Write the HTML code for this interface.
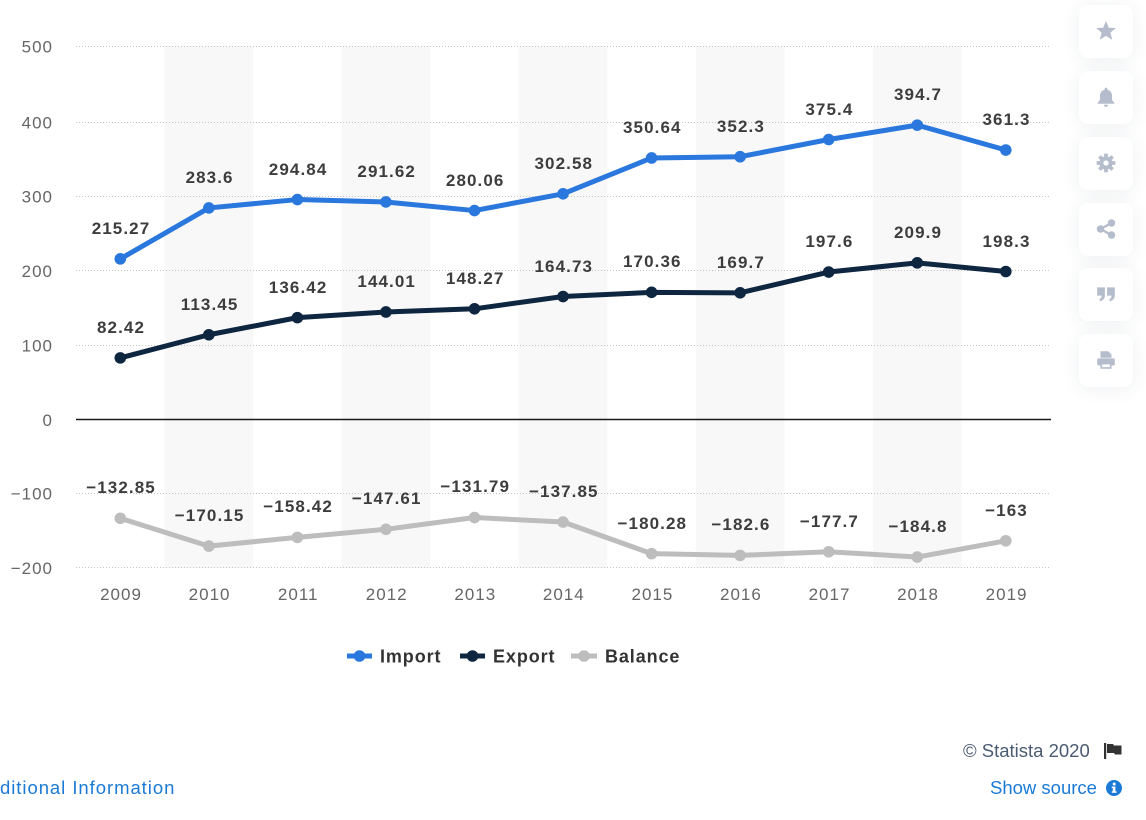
<!DOCTYPE html>
<html>
<head>
<meta charset="utf-8">
<style>
  html,body{margin:0;padding:0;background:#fff;}
  body{width:1146px;height:820px;position:relative;overflow:hidden;font-family:"Liberation Sans",Arial,sans-serif;}
  svg{position:absolute;left:0;top:0;}
  .btn{position:absolute;left:1079px;width:54px;height:53px;background:#fff;border-radius:9px;box-shadow:0 2px 18px rgba(40,60,90,0.08);}
  .btn svg{position:absolute;left:16px;top:15px;}
  .foot{position:absolute;font-size:18.5px;white-space:nowrap;}
</style>
</head>
<body>
<svg width="1146" height="820" viewBox="0 0 1146 820" xmlns="http://www.w3.org/2000/svg">
  <g fill="#f8f8f8">
    <rect x="164.55" y="46" width="88.55" height="522"/>
    <rect x="341.65" y="46" width="88.55" height="522"/>
    <rect x="518.75" y="46" width="88.55" height="522"/>
    <rect x="695.85" y="46" width="88.55" height="522"/>
    <rect x="872.95" y="46" width="88.55" height="522"/>
  </g>
  <g stroke="#c4c4c4" stroke-width="1" stroke-dasharray="1,2">
    <line x1="76" y1="46.5" x2="1050" y2="46.5"/>
    <line x1="76" y1="122.5" x2="1050" y2="122.5"/>
    <line x1="76" y1="196.5" x2="1050" y2="196.5"/>
    <line x1="76" y1="270.5" x2="1050" y2="270.5"/>
    <line x1="76" y1="345.5" x2="1050" y2="345.5"/>
    <line x1="76" y1="493.5" x2="1050" y2="493.5"/>
    <line x1="76" y1="567.5" x2="1050" y2="567.5"/>
  </g>
  <line x1="76" y1="419.5" x2="1051" y2="419.5" stroke="#1a1a1a" stroke-width="1.5"/>
  <g font-size="17" fill="#666" text-anchor="end" letter-spacing="1">
    <text x="53" y="52.5">500</text>
    <text x="53" y="128.5">400</text>
    <text x="53" y="202.5">300</text>
    <text x="53" y="277">200</text>
    <text x="53" y="351.5">100</text>
    <text x="53" y="426">0</text>
    <text x="53" y="499.5">−100</text>
    <text x="53" y="574">−200</text>
  </g>
  <g font-size="17" fill="#666" text-anchor="middle" letter-spacing="1">
    <text x="121" y="600">2009</text>
    <text x="209.6" y="600">2010</text>
    <text x="298.2" y="600">2011</text>
    <text x="386.7" y="600">2012</text>
    <text x="475.3" y="600">2013</text>
    <text x="563.8" y="600">2014</text>
    <text x="652.4" y="600">2015</text>
    <text x="740.9" y="600">2016</text>
    <text x="829.5" y="600">2017</text>
    <text x="918" y="600">2018</text>
    <text x="1006.6" y="600">2019</text>
  </g>
  <polyline fill="none" stroke="#bdbdbd" stroke-width="5" stroke-linejoin="round" points="120.3,518.31 208.85,546.11 297.4,537.37 385.95,529.31 474.5,517.52 563.05,522.04 651.6,553.66 740.15,555.39 828.7,551.74 917.25,557.03 1005.8,540.78"/>
  <g fill="#bdbdbd">
    <circle cx="120.3" cy="518.31" r="5.8"/><circle cx="208.85" cy="546.11" r="5.8"/><circle cx="297.4" cy="537.37" r="5.8"/><circle cx="385.95" cy="529.31" r="5.8"/><circle cx="474.5" cy="517.52" r="5.8"/><circle cx="563.05" cy="522.04" r="5.8"/><circle cx="651.6" cy="553.66" r="5.8"/><circle cx="740.15" cy="555.39" r="5.8"/><circle cx="828.7" cy="551.74" r="5.8"/><circle cx="917.25" cy="557.03" r="5.8"/><circle cx="1005.8" cy="540.78" r="5.8"/>
  </g>
  <polyline fill="none" stroke="#0f2641" stroke-width="5" stroke-linejoin="round" points="120.3,357.87 208.85,334.75 297.4,317.63 385.95,311.97 474.5,308.8 563.05,296.53 651.6,292.33 740.15,292.82 828.7,272.03 917.25,262.86 1005.8,271.51"/>
  <g fill="#0f2641">
    <circle cx="120.3" cy="357.87" r="5.8"/><circle cx="208.85" cy="334.75" r="5.8"/><circle cx="297.4" cy="317.63" r="5.8"/><circle cx="385.95" cy="311.97" r="5.8"/><circle cx="474.5" cy="308.8" r="5.8"/><circle cx="563.05" cy="296.53" r="5.8"/><circle cx="651.6" cy="292.33" r="5.8"/><circle cx="740.15" cy="292.82" r="5.8"/><circle cx="828.7" cy="272.03" r="5.8"/><circle cx="917.25" cy="262.86" r="5.8"/><circle cx="1005.8" cy="271.51" r="5.8"/>
  </g>
  <polyline fill="none" stroke="#2a77de" stroke-width="5" stroke-linejoin="round" points="120.3,258.86 208.85,207.93 297.4,199.56 385.95,201.96 474.5,210.57 563.05,193.79 651.6,157.97 740.15,156.73 828.7,139.51 917.25,125.13 1005.8,150.02"/>
  <g fill="#2a77de">
    <circle cx="120.3" cy="258.86" r="5.8"/><circle cx="208.85" cy="207.93" r="5.8"/><circle cx="297.4" cy="199.56" r="5.8"/><circle cx="385.95" cy="201.96" r="5.8"/><circle cx="474.5" cy="210.57" r="5.8"/><circle cx="563.05" cy="193.79" r="5.8"/><circle cx="651.6" cy="157.97" r="5.8"/><circle cx="740.15" cy="156.73" r="5.8"/><circle cx="828.7" cy="139.51" r="5.8"/><circle cx="917.25" cy="125.13" r="5.8"/><circle cx="1005.8" cy="150.02" r="5.8"/>
  </g>
  <g font-size="17" font-weight="bold" fill="#3d3d3d" text-anchor="middle" letter-spacing="1.1">
    <text x="121" y="234">215.27</text>
    <text x="209.6" y="183">283.6</text>
    <text x="298.1" y="175">294.84</text>
    <text x="386.7" y="177">291.62</text>
    <text x="475.2" y="186">280.06</text>
    <text x="563.8" y="169">302.58</text>
    <text x="652.3" y="133">350.64</text>
    <text x="740.9" y="132">352.3</text>
    <text x="829.4" y="115">375.4</text>
    <text x="918" y="100">394.7</text>
    <text x="1006.5" y="125">361.3</text>

    <text x="121" y="333">82.42</text>
    <text x="209.6" y="310">113.45</text>
    <text x="298.1" y="293">136.42</text>
    <text x="386.7" y="287">144.01</text>
    <text x="475.2" y="284">148.27</text>
    <text x="563.8" y="272">164.73</text>
    <text x="652.3" y="267">170.36</text>
    <text x="740.9" y="268">169.7</text>
    <text x="829.4" y="247">197.6</text>
    <text x="918" y="238">209.9</text>
    <text x="1006.5" y="247">198.3</text>

    <text x="121" y="493">−132.85</text>
    <text x="209.6" y="521">−170.15</text>
    <text x="298.1" y="512">−158.42</text>
    <text x="386.7" y="504">−147.61</text>
    <text x="475.2" y="492">−131.79</text>
    <text x="563.8" y="497">−137.85</text>
    <text x="652.3" y="529">−180.28</text>
    <text x="740.9" y="530">−182.6</text>
    <text x="829.4" y="527">−177.7</text>
    <text x="918" y="532">−184.8</text>
    <text x="1006.5" y="516">−163</text>
  </g>
  <g>
    <line x1="347" y1="656" x2="372" y2="656" stroke="#2a77de" stroke-width="5"/>
    <circle cx="359.5" cy="656" r="5.8" fill="#2a77de"/>
    <line x1="460" y1="656" x2="485" y2="656" stroke="#0f2641" stroke-width="5"/>
    <circle cx="472.5" cy="656" r="5.8" fill="#0f2641"/>
    <line x1="571" y1="656" x2="597" y2="656" stroke="#bdbdbd" stroke-width="5"/>
    <circle cx="584" cy="656" r="5.8" fill="#bdbdbd"/>
    <g font-size="18" font-weight="bold" fill="#333" letter-spacing="0.9">
      <text x="380" y="662.5">Import</text>
      <text x="493" y="662.5">Export</text>
      <text x="605" y="662.5">Balance</text>
    </g>
  </g>
</svg>

<div class="btn" style="top:5px;">
  <svg width="22" height="22" viewBox="0 0 20 20"><polygon points="10,1 12.6,7 19,7.3 14,11.5 15.7,18 10,14.4 4.3,18 6,11.5 1,7.3 7.4,7" fill="#b5bdcc"/></svg>
</div>
<div class="btn" style="top:71px;">
  <svg width="22" height="22" viewBox="0 0 20 20"><path d="M10 1.5c.8 0 1.3.6 1.3 1.3v.6c2.6.6 4.2 2.8 4.2 5.6v3.8l2 2.3v1H2.5v-1l2-2.3V9c0-2.8 1.6-5 4.2-5.6v-.6c0-.7.5-1.3 1.3-1.3zM8 17h4c0 1.1-.9 2-2 2s-2-.9-2-2z" fill="#b5bdcc"/></svg>
</div>
<div class="btn" style="top:137px;">
  <svg width="22" height="22" viewBox="0 0 20 20"><g fill="#b5bdcc"><circle cx="10" cy="10" r="6"/><rect x="8.3" y="1.5" width="3.4" height="17" rx="0.5"/><rect x="1.5" y="8.3" width="17" height="3.4" rx="0.5"/><rect x="8.3" y="1.5" width="3.4" height="17" rx="0.5" transform="rotate(45 10 10)"/><rect x="8.3" y="1.5" width="3.4" height="17" rx="0.5" transform="rotate(-45 10 10)"/></g><circle cx="10" cy="10" r="2.4" fill="#fff"/></svg>
</div>
<div class="btn" style="top:203px;">
  <svg width="22" height="22" viewBox="0 0 20 20"><g fill="#b5bdcc" stroke="#b5bdcc" stroke-width="2.2"><line x1="5" y1="10" x2="15" y2="4.5"/><line x1="5" y1="10" x2="15" y2="15.5"/><circle cx="5" cy="10" r="2.3"/><circle cx="15" cy="4.5" r="2.3"/><circle cx="15" cy="15.5" r="2.3"/></g></svg>
</div>
<div class="btn" style="top:268px;">
  <svg width="22" height="22" viewBox="0 0 20 20"><g fill="#b5bdcc"><path d="M2 4h7v7c0 3-1.5 5-4.5 5.5l-.6-1.8C5.5 14.2 6 13 6 11.5H2z"/><path d="M11 4h7v7c0 3-1.5 5-4.5 5.5l-.6-1.8c1.6-.5 2.1-1.7 2.1-3.2H11z"/></g></svg>
</div>
<div class="btn" style="top:334px;">
  <svg width="22" height="22" viewBox="0 0 20 20"><g fill="#b5bdcc"><path d="M5 2h7l3 3v3H5z"/><rect x="2" y="8.5" width="16" height="6.5" rx="1.5"/><rect x="5" y="13" width="10" height="5"/></g><rect x="6.5" y="14" width="7" height="2.5" fill="#fff"/></svg>
</div>

<div class="foot" style="left:963px;top:740px;color:#4b5b72;">© Statista 2020</div>
<svg style="left:1103px;top:742px;" width="20" height="18" viewBox="0 0 20 18"><rect x="1" y="1" width="2.2" height="16" fill="#333"/><path d="M4 2h6l1 1.5h7.5v9H12l-1-1.5H4z" fill="#333"/></svg>
<div class="foot" style="left:0px;top:777px;color:#1b7ad6;letter-spacing:0.95px;">ditional Information</div>
<div class="foot" style="left:990px;top:777px;color:#1b7ad6;">Show source</div>
<svg style="left:1105px;top:779px;" width="18" height="18" viewBox="0 0 18 18"><circle cx="9" cy="9" r="8" fill="#1b7ad6"/><rect x="7.8" y="7.5" width="2.6" height="6" fill="#fff"/><rect x="6.8" y="7.5" width="3.6" height="1.5" fill="#fff"/><rect x="6.8" y="12.3" width="4.8" height="1.5" fill="#fff"/><circle cx="9.2" cy="5" r="1.5" fill="#fff"/></svg>
</body>
</html>
